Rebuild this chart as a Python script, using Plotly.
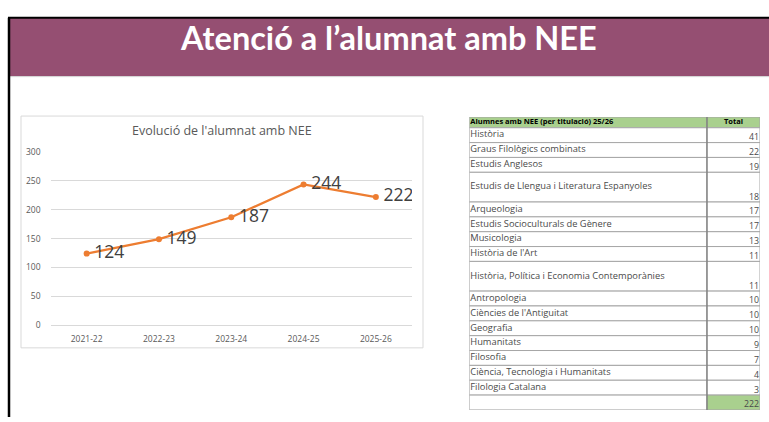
import plotly.graph_objects as go

W, H = 769, 422

# ---------------- data ----------------
years = ["2021-22", "2022-23", "2023-24", "2024-25", "2025-26"]
students = [124, 149, 187, 244, 222]
y_ticks = [0, 50, 100, 150, 200, 250, 300]

table_header = ["Alumnes amb NEE (per titulació) 25/26", "Total"]
programmes = [
    "Història", "Graus Filològics combinats", "Estudis Anglesos",
    "Estudis de Llengua i Literatura Espanyoles", "Arqueologia",
    "Estudis Socioculturals de Gènere", "Musicologia", "Història de l'Art",
    "Història, Política i Economia Contemporànies", "Antropologia",
    "Ciències de l'Antiguitat", "Geografia", "Humanitats", "Filosofia",
    "Ciència, Tecnologia i Humanitats", "Filologia Catalana",
]
programme_counts = [41, 22, 19, 18, 17, 17, 13, 11, 11, 10, 10, 10, 9, 7, 4, 3]
total_count = 222

title_text = "Atenció a l’alumnat amb NEE"
chart_title = "Evolució de l'alumnat amb NEE"

# ---------------- helpers ----------------
def px(x):
    return x / W

def py(y):
    return 1 - y / H

FONT = "Open Sans"
GREEN = "#A9D08E"
PURPLE = "#954F72"

# table geometry (in table-axis units = pixels)
header_h = 11.0
row_h = 15.25
col_split = 237.7
table_w = 290.7

values_all = [table_header[1]] + [str(v) for v in programme_counts] + [str(total_count)]
heights = [header_h] + [row_h * (2 if len(p) > 40 else 1) for p in programmes] + [row_h]
tops, centers, bottoms = [], [], []
acc = 0.0
for h in heights:
    tops.append(acc)
    centers.append(acc + h / 2)
    bottoms.append(acc + h)
    acc += h
table_h = acc
n = len(heights)

left_fill = [GREEN] + ["white"] * (n - 1)
right_fill = [GREEN] + ["white"] * (n - 2) + [GREEN]

fig = go.Figure()

# ---------------- line chart ----------------
fig.add_trace(go.Scatter(
    x=years, y=students, mode="lines+markers+text",
    line=dict(color="#ED7D31", width=2.25),
    marker=dict(color="#ED7D31", size=6),
    text=["\u2009" + str(v) for v in students], textposition="middle right",
    textfont=dict(family=FONT, size=17.5, color="#404040"),
    hoverinfo="skip", showlegend=False, xaxis="x", yaxis="y",
))

# ---------------- table cells ----------------
fig.add_trace(go.Bar(
    y=centers, x=[col_split] * n, base=[0] * n, width=heights,
    orientation="h", marker=dict(color=left_fill, line=dict(color="#A6A6A6", width=1)),
    hoverinfo="skip", showlegend=False, xaxis="x2", yaxis="y2",
))
fig.add_trace(go.Bar(
    y=centers, x=[table_w - col_split] * n, base=[col_split] * n, width=heights,
    orientation="h", marker=dict(color=right_fill, line=dict(color="#A6A6A6", width=1)),
    hoverinfo="skip", showlegend=False, xaxis="x2", yaxis="y2",
))

# header texts
fig.add_trace(go.Scatter(
    x=[1.0], y=[centers[0]], mode="text", text=["<b>" + table_header[0] + "</b>"],
    textposition="middle right", textfont=dict(family=FONT, size=7.5, color="#000000"),
    hoverinfo="skip", showlegend=False, xaxis="x2", yaxis="y2",
))
fig.add_trace(go.Scatter(
    x=[(col_split + table_w) / 2], y=[centers[0]], mode="text", text=["<b>" + table_header[1] + "</b>"],
    textposition="middle center", textfont=dict(family=FONT, size=7.5, color="#000000"),
    hoverinfo="skip", showlegend=False, xaxis="x2", yaxis="y2",
))
# programme labels
fig.add_trace(go.Scatter(
    x=[1.0] * len(programmes), y=centers[1:-1], mode="text", text=programmes,
    textposition="middle right", textfont=dict(family=FONT, size=9.3, color="#4A4A4A"),
    marker=dict(size=1), hoverinfo="skip", showlegend=False, xaxis="x2", yaxis="y2",
))
# values (bottom aligned)
fig.add_trace(go.Scatter(
    x=[table_w - 1.0] * (n - 1), y=[b - 4.8 for b in bottoms[1:]], mode="text",
    text=values_all[1:], textposition="middle left",
    textfont=dict(family=FONT, size=8.8, color="#4A4A4A"),
    marker=dict(size=1), hoverinfo="skip", showlegend=False, xaxis="x2", yaxis="y2",
))

shapes = [
    # banner
    dict(type="rect", xref="paper", yref="paper", x0=px(9), x1=1, y0=py(72), y1=py(12),
         fillcolor=PURPLE, line=dict(width=0), layer="below"),
    dict(type="line", xref="paper", yref="paper", x0=px(9), x1=1, y0=py(72.5), y1=py(72.5),
         line=dict(color="#D0D0D0", width=1)),
    dict(type="line", xref="paper", yref="paper", x0=px(8), x1=1, y0=py(12), y1=py(12),
         line=dict(color="black", width=2)),
    dict(type="line", xref="paper", yref="paper", x0=px(9), x1=px(9), y0=py(12), y1=0,
         line=dict(color="black", width=2.5)),
    # chart frame
    dict(type="rect", xref="paper", yref="paper", x0=px(21), x1=px(423), y0=py(351), y1=py(113),
         line=dict(color="#D9D9D9", width=1), layer="below"),
    # table column divider
    dict(type="line", xref="x2", yref="y2", x0=col_split, x1=col_split, y0=0, y1=table_h,
         line=dict(color="#6E6E6E", width=1)),
]

annotations = [
    dict(xref="paper", yref="paper", x=px(389), y=py(32), text=title_text, showarrow=False,
         font=dict(family="Lato", size=32.5, color="white", weight="bold"),
         xanchor="center", yanchor="middle"),
    dict(xref="paper", yref="paper", x=px(222), y=py(128), text=chart_title, showarrow=False,
         font=dict(family=FONT, size=12.5, color="#595959"), xanchor="center", yanchor="middle"),
]

fig.update_layout(
    width=W, height=H, margin=dict(l=0, r=0, t=0, b=0),
    paper_bgcolor="white", plot_bgcolor="rgba(0,0,0,0)",
    barmode="overlay", shapes=shapes, annotations=annotations,
    xaxis=dict(domain=[px(50.5), px(412)], type="category", range=[-0.5, 4.5],
               showgrid=False, showline=False, zeroline=False, ticks="",
               ticklabelstandoff=7,
               tickfont=dict(family=FONT, size=8.5, color="#595959")),
    yaxis=dict(domain=[py(327.7), py(150)], range=[0, 300], tickvals=y_ticks,
               showgrid=True, gridcolor="#D9D9D9", gridwidth=1,
               zeroline=True, zerolinecolor="#D9D9D9", zerolinewidth=1,
               showline=False, ticks="", ticklabelstandoff=9,
               tickfont=dict(family=FONT, size=8.5, color="#595959")),
    xaxis2=dict(domain=[px(469.3), px(760)], range=[0, table_w], visible=False, fixedrange=True),
    yaxis2=dict(domain=[py(414.75), py(114)], range=[table_h, 0], visible=False, fixedrange=True),
    font=dict(family=FONT),
)

fig.write_html(
    "out.html",
    config={"displayModeBar": False},
    post_script="document.body.style.margin='0';document.body.style.overflow='hidden';",
)
